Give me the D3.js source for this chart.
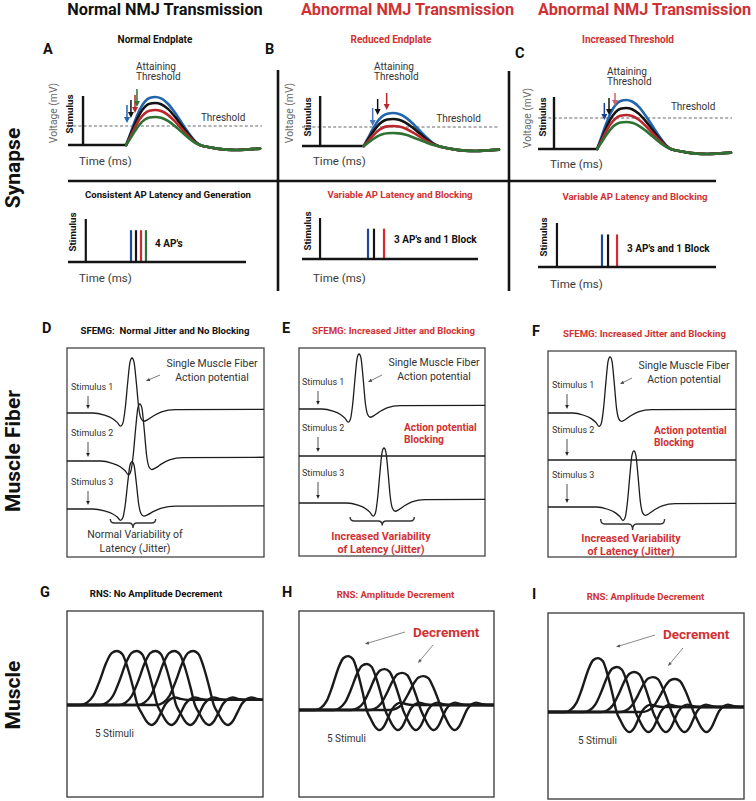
<!DOCTYPE html>
<html><head><meta charset="utf-8">
<script src="https://cdn.jsdelivr.net/npm/d3@7"></script>
<style>
body{margin:0;background:#fff;}
svg{display:block;font-family:Roboto,"Noto Sans",sans-serif;}
text{white-space:pre;}
</style></head><body>
<script>
// ================= DATA =================
const columnTitles = ["Normal NMJ Transmission", "Abnormal NMJ Transmission", "Abnormal NMJ Transmission"];
const rowTitles = ["Synapse", "Muscle Fiber", "Muscle"];
const panelLetters = ["A", "B", "C", "D", "E", "F", "G", "H", "I"];
const endplateTitles = ["Normal Endplate", "Reduced Endplate", "Increased Threshold"];
const apTitles = ["Consistent AP Latency and Generation", "Variable AP Latency and Blocking", "Variable AP Latency and Blocking"];
const apLabels = ["4 AP's", "3 AP's and 1 Block", "3 AP's and 1 Block"];
const sfTitles = ["SFEMG:  Normal Jitter and No Blocking", "SFEMG: Increased Jitter and Blocking", "SFEMG: Increased Jitter and Blocking"];
const rnsTitles = ["RNS: No Amplitude Decrement", "RNS: Amplitude Decrement", "RNS: Amplitude Decrement"];
const stimulusRows = ["Stimulus 1", "Stimulus 2", "Stimulus 3"];

// Synapse: end-plate potentials (time in ms, voltage in mV)
const stimTime = [1.55, 1.85, 1.65];
const stimLevel = [49, 50, 52];
const eppOnset = [6.0, 6.3, 6.1];
const thresholdMV = [19, 19, 31];
const eppAmpA = [48, 42, 35, 28];
const eppAmpB = [33, 27, 20, 13];
const eppAmpC = [49, 41, 34, 27];
// EPP waveform: rising phase (fraction of peak) and after-hyperpolarisation (mV)
const eppRise = [[0,0],[0.4,0.22],[0.9,0.5],[1.4,0.74],[1.9,0.9],[2.4,0.98],[3.0,1],[3.6,0.97],[4.3,0.86],[5.0,0.68],[5.7,0.47],[6.4,0.26],[7.1,0.08],[7.6,0]];
const eppTail = [[8.3,-1.8],[9.2,-3.4],[10.3,-4.6],[11.4,-5],[12.5,-4.5],[13.8,-3.6]];
// "Attaining threshold" arrows (ms, tip mV, top mV)
const arrowTimeA = [6.08, 6.49, 6.91, 7.11], arrowTipA = [22, 27, 32, 38], arrowTopA = [40, 45, 50, 56];
const arrowTimeB = [7.21, 7.72, 8.64], arrowTipB = [20, 31, 36], arrowTopB = [38, 47, 53];
const arrowTimeC = [6.84, 7.32, 7.94], arrowTipC = [29, 34, 43], arrowTopC = [46, 51, 56];

// Synapse: AP generation (ms)
const apStimTime = [2.0, 2.05, 2.13];
const apTimesA = [7.08, 7.64, 8.2, 8.76];
const apTimesB = [7.5, 8.18, 9.32];
const apTimesC = [7.19, 7.87, 8.88];
const apLevel = 0.74;

// Muscle fiber: SFEMG (time in % of sweep, amplitude in fraction of standard spike)
const sfShape = [[-100,0],[-20,0],[-14,-0.04],[-10,-0.1],[-7.5,-0.17],[-5.8,-0.24],[-4.6,-0.18],[-3.4,0.1],[-2.2,0.55],[-1,0.93],[0,1],[1,0.93],[2.2,0.55],[3.4,0.1],[4.6,-0.1],[6,-0.15],[8,-0.12],[11,-0.05],[15,0.02],[22,0.06],[100,0.07]];
const sfLatencyD = [33, 37, 33], sfAmpD = [1, 1.04, 0.86];
const sfLatencyE = [32.3, 40, 45.7], sfAmpE = [1, 0, 1];
const sfLatencyF = [33, 40, 45.7], sfAmpF = [1.02, 0, 1.02];
const jitterBraceD = [22, 45], jitterBraceE = [27.5, 62], jitterBraceF = [28, 62];

// Muscle: RNS compound muscle action potentials (time in % of sweep, mV)
const rnsRise = [[-100,0],[-17,0],[-14,0.04],[-11,0.17],[-8,0.45],[-5,0.78],[-2.5,0.96],[0,1],[2.5,0.94],[5,0.68],[7.5,0.32],[9.5,0]];
const rnsTail = [[11.5,-9],[13.5,-17],[16,-21.5],[18.5,-17],[20.5,-8],[22.5,1],[25,6.5],[27,8],[29.5,6.5],[33,5.4],[100,5.4]];
const rnsWidth = [1.1, 1, 1];
const rnsLatencyG = [25.5, 35.6, 45.2, 54.8, 64.4], rnsAmpG = [58, 58, 58, 58, 58];
const rnsLatencyH = [25.2, 34.7, 43.9, 53, 63.8], rnsAmpH = [58, 49.5, 44, 40, 36.5];
const rnsLatencyI = [25.5, 35.2, 44.1, 53.6, 64.8], rnsAmpI = [58, 48.4, 43, 37.6, 35.5];

// ================= STYLE =================
const RED = "#cf3234", INK = "#141414", GREY = "#333";
const traceColors = ["#2265ad", "#141414", "#b9262c", "#2e7233"];
const apColors = ["#1d4a98", "#141414", "#d8282c", "#2e7233"];
const arrowColorsA = ["#2265ad", "#141414", "#b9262c", "#2e7233"];
const arrowColorsB = ["#4b77c0", "#141414", "#b9262c"];
const arrowColorsC = ["#1d3f8f", "#141414", "#d0646e"];

const svg = d3.select("body").append("svg").attr("width", 756).attr("height", 801);
const defs = svg.append("defs");

function label(x, y, str, o = {}) {
  const lines = Array.isArray(str) ? str : [str];
  const t = svg.append("text").attr("x", x).attr("y", y)
    .attr("font-size", o.size || 10).attr("font-weight", o.weight || 400)
    .attr("fill", o.fill || GREY).attr("text-anchor", o.anchor || "start");
  lines.forEach((s, k) => t.append("tspan").attr("x", x).attr("dy", k ? (o.lh || 12) : 0).text(s));
  if (o.rotate) t.attr("transform", `rotate(${o.rotate},${x},${y})`);
  return t;
}
function arrow(x1, y1, x2, y2, color, w, hl, hw) {
  const a = Math.atan2(y2 - y1, x2 - x1);
  const bx = x2 - hl * Math.cos(a), by = y2 - hl * Math.sin(a);
  svg.append("line").attr("x1", x1).attr("y1", y1).attr("x2", bx + 0.3 * hl * Math.cos(a)).attr("y2", by + 0.3 * hl * Math.sin(a))
    .attr("stroke", color).attr("stroke-width", w);
  const px = -Math.sin(a) * hw, py = Math.cos(a) * hw;
  svg.append("path").attr("d", `M${x2},${y2}L${bx + px},${by + py}L${bx - px},${by - py}Z`).attr("fill", color);
}
function hline(x1, x2, y, w, c) { svg.append("line").attr("x1", x1).attr("x2", x2).attr("y1", y).attr("y2", y).attr("stroke", c || INK).attr("stroke-width", w); }
function vline(x, y1, y2, w, c) { svg.append("line").attr("x1", x).attr("x2", x).attr("y1", y1).attr("y2", y2).attr("stroke", c || INK).attr("stroke-width", w); }
function brace(x1, x2, yTop, yBar, yTip, color) {
  const xm = (x1 + x2) / 2, r = 4;
  const d = `M${x1},${yTop}Q${x1},${yBar} ${x1 + r},${yBar}L${xm - r},${yBar}Q${xm},${yBar} ${xm},${yTip}Q${xm},${yBar} ${xm + r},${yBar}L${x2 - r},${yBar}Q${x2},${yBar} ${x2},${yTop}`;
  svg.append("path").attr("d", d).attr("fill", "none").attr("stroke", color).attr("stroke-width", 1.4);
}

// ================= HEADERS =================
const headerX = [165, 407.5, 644.5];
columnTitles.forEach((t, i) => label(headerX[i], 14.5, t, { size: 16.3, weight: 700, anchor: "middle", fill: i ? RED : "#111" }));
const rowCenter = [168, 451, 695];
rowTitles.forEach((t, i) => label(20, rowCenter[i], t, { size: 21, weight: 700, anchor: "middle", fill: "#111", rotate: -90 }));

// Synapse grid lines
hline(68, 716, 181, 2.6);
vline(278, 70, 291, 2.6);
vline(509, 71, 291, 2.6);

// ================= SYNAPSE: EPP panels =================
const synTop = [
  { x0: 68, x1: 262, base: 145, letter: [43, 53.5], title: [155, 43], attain: [136, 70], thr: 121, volt: [57, 113], stim: [73, 114], time: [79, 165] },
  { x0: 302, x1: 498, base: 146, letter: [265, 54], title: [391, 43], attain: [374, 70], thr: 122, volt: [293, 113], stim: [311, 117], time: [313, 165] },
  { x0: 538, x1: 732, base: 149, letter: [515, 58], title: [628, 43], attain: [607, 75], thr: 110, volt: [531, 118], stim: [546, 117], time: [550, 167.5] }
];
const eppAmps = [eppAmpA, eppAmpB, eppAmpC];
const arrowTimes = [arrowTimeA, arrowTimeB, arrowTimeC], arrowTips = [arrowTipA, arrowTipB, arrowTipC], arrowTops = [arrowTopA, arrowTopB, arrowTopC];
const arrowColors = [arrowColorsA, arrowColorsB, arrowColorsC];

synTop.forEach((p, i) => {
  const x = d3.scaleLinear().domain([0, 20]).range([p.x0, p.x1]);
  const y = d3.scaleLinear().domain([0, 50]).range([p.base, p.base - 50]);
  label(p.letter[0], p.letter[1], panelLetters[i], { size: 14.5, weight: 700, fill: "#111" });
  label(p.title[0], p.title[1], endplateTitles[i], { size: 10, weight: 700, anchor: "middle", fill: i ? RED : "#111" });
  label(p.attain[0], p.attain[1], ["Attaining", "Threshold"], { size: 10, lh: 9.5 });
  label(p.volt[0], p.volt[1], "Voltage (mV)", { size: 10.3, fill: "#6a6a6a", anchor: "middle", rotate: -90 });
  label(p.stim[0], p.stim[1], "Stimulus", { size: 9.8, weight: 700, fill: "#111", anchor: "middle", rotate: -90 });
  label(p.time[0], p.time[1], "Time (ms)", { size: 11.5, fill: "#3a3a3a" });
  // threshold
  svg.append("line").attr("x1", x(0)).attr("x2", x(20)).attr("y1", y(thresholdMV[i])).attr("y2", y(thresholdMV[i]))
    .attr("stroke", "#555").attr("stroke-width", 0.9).attr("stroke-dasharray", "3,2.2");
  label(x(13.7), p.thr, "Threshold", { size: 10 });
  // baseline + stimulus
  svg.append("line").attr("x1", x(0)).attr("x2", x(eppOnset[i]) + 1).attr("y1", y(0)).attr("y2", y(0)).attr("stroke", INK).attr("stroke-width", 2.6);
  svg.append("line").attr("x1", x(stimTime[i])).attr("x2", x(stimTime[i])).attr("y1", y(0) + 1).attr("y2", y(stimLevel[i])).attr("stroke", INK).attr("stroke-width", 2.4);
  // EPP curves
  const line = d3.line().x(d => x(d[0])).y(d => y(d[1])).curve(d3.curveMonotoneX);
  eppAmps[i].forEach((amp, k) => {
    const pts = eppRise.map(([t, v]) => [eppOnset[i] + t, v * amp]).concat(eppTail.map(([t, v]) => [eppOnset[i] + t, v]));
    svg.append("path").attr("d", line(pts)).attr("fill", "none").attr("stroke", traceColors[k]).attr("stroke-width", 2.6).attr("stroke-linecap", "round");
  });
  // arrows
  arrowTimes[i].forEach((t, k) => {
    arrow(x(t), y(arrowTops[i][k]), x(t), y(arrowTips[i][k]), arrowColors[i][k], 1.5, 6, 3);
  });
});

// ================= SYNAPSE: AP panels =================
const synBot = [
  { x0: 68, x1: 246, base: 262, h: 43, title: [168, 198], stim: [76, 232], lab: [155, 247], time: [79, 282] },
  { x0: 302, x1: 478, base: 259, h: 41, title: [400, 198], stim: [311, 231], lab: [394, 243], time: [313, 282] },
  { x0: 538, x1: 716, base: 267, h: 44, title: [635, 200], stim: [547, 237], lab: [627, 252], time: [550, 288] }
];
const apTimes = [apTimesA, apTimesB, apTimesC];
synBot.forEach((p, i) => {
  const x = d3.scaleLinear().domain([0, 20]).range([p.x0, p.x1]);
  const y = d3.scaleLinear().domain([0, 1]).range([p.base, p.base - p.h]);
  label(p.title[0], p.title[1], apTitles[i], { size: 9.6, weight: 700, anchor: "middle", fill: i ? RED : "#111" });
  label(p.stim[0], p.stim[1], "Stimulus", { size: 9.8, weight: 700, fill: "#111", anchor: "middle", rotate: -90 });
  label(p.time[0], p.time[1], "Time (ms)", { size: 11.5, fill: "#3a3a3a" });
  label(p.lab[0], p.lab[1], apLabels[i], { size: 10, weight: 700, fill: "#111" });
  svg.append("line").attr("x1", x(apStimTime[i])).attr("x2", x(apStimTime[i])).attr("y1", y(0)).attr("y2", y(1)).attr("stroke", INK).attr("stroke-width", 2.2);
  svg.selectAll(null).data(apTimes[i]).enter().append("line")
    .attr("x1", d => x(d)).attr("x2", d => x(d)).attr("y1", y(0)).attr("y2", y(apLevel))
    .attr("stroke", (d, k) => apColors[k]).attr("stroke-width", 2.2);
  svg.append("line").attr("x1", x(0)).attr("x2", x(20)).attr("y1", y(0)).attr("y2", y(0)).attr("stroke", INK).attr("stroke-width", 2.6);
});

// ================= MUSCLE FIBER: SFEMG =================
const sfPanels = [
  { box: [67, 348, 264, 557], rows: [413, 509], letter: [42, 333], title: [165, 334], stimX: 71, stimY: [390, 436, 485], arrX: 88,
    smf: [212, 367], ptr: [160, 375, 146, 381], brace: [519, 523, 528], jit: [135, 538] },
  { box: [299, 348, 485, 556], rows: [409, 503], letter: [282, 333], title: [393.5, 334], stimX: 302, stimY: [385, 431, 476], arrX: 318,
    smf: [434, 366], ptr: [382, 375, 368, 382], brace: [517, 521, 525.5], jit: [381, 540], block: [404, 431] },
  { box: [548, 351, 736, 557], rows: [413, 507], letter: [532, 336], title: [644.5, 337], stimX: 552, stimY: [388, 433, 478], arrX: 567,
    smf: [684, 369], ptr: [632, 378, 620, 384], brace: [519, 524, 530], jit: [631, 542], block: [654, 434] }
];
const sfLat = [sfLatencyD, sfLatencyE, sfLatencyF], sfAmp = [sfAmpD, sfAmpE, sfAmpF];
const braces = [jitterBraceD, jitterBraceE, jitterBraceF];
sfPanels.forEach((p, i) => {
  const [bx0, by0, bx1, by1] = p.box;
  const x = d3.scaleLinear().domain([0, 100]).range([bx0, bx1]);
  const row = d3.scalePoint().domain(stimulusRows).range(p.rows);
  const amp = d3.scaleLinear().domain([0, 1]).range([0, -55]);
  const cid = "clipSF" + i;
  defs.append("clipPath").attr("id", cid).append("rect").attr("x", bx0).attr("y", by0).attr("width", bx1 - bx0).attr("height", by1 - by0);
  svg.append("rect").attr("x", bx0).attr("y", by0).attr("width", bx1 - bx0).attr("height", by1 - by0).attr("fill", "none").attr("stroke", "#444").attr("stroke-width", 1.3);
  label(p.letter[0], p.letter[1], panelLetters[3 + i], { size: 14.5, weight: 700, fill: "#111" });
  label(p.title[0], p.title[1], sfTitles[i], { size: 9.6, weight: 700, anchor: "middle", fill: i ? RED : "#111" });
  const line = d3.line().x(d => x(d[0])).y(d => d[2] + amp(d[1])).curve(d3.curveMonotoneX);
  stimulusRows.forEach((r, k) => {
    const pts = sfShape.map(([t, v]) => [sfLat[i][k] + t, v * sfAmp[i][k], row(r)]);
    svg.append("path").attr("clip-path", `url(#${cid})`).attr("d", line(pts)).attr("fill", "none").attr("stroke", "#1c1c1c").attr("stroke-width", 1.3);
    label(p.stimX, p.stimY[k], r, { size: 9, fill: "#333" });
    arrow(p.arrX, p.stimY[k] + 6, p.arrX, row(r) - 4, "#222", 0.8, 4, 1.8);
  });
  label(p.smf[0], p.smf[1], ["Single Muscle Fiber", "Action potential"], { size: 10.5, anchor: "middle", fill: "#333", lh: 13.5 });
  arrow(p.ptr[0], p.ptr[1], p.ptr[2], p.ptr[3], "#444", 0.7, 4, 1.6);
  if (p.block) {
    label(p.block[0], p.block[1], ["Action potential", "Blocking"], { size: 10.2, weight: 700, fill: RED, lh: 12 });
  }
  brace(x(braces[i][0]), x(braces[i][1]), p.brace[0], p.brace[1], p.brace[2], "#333");
  if (i === 0) {
    label(p.jit[0], p.jit[1], ["Normal Variability of", "Latency (Jitter)"], { size: 10.5, anchor: "middle", fill: "#333", lh: 13.5 });
  } else {
    label(p.jit[0], p.jit[1], ["Increased Variability", "of Latency (Jitter)"], { size: 10.8, weight: 700, anchor: "middle", fill: RED, lh: 12.5 });
  }
});

// ================= MUSCLE: RNS =================
const rnsPanels = [
  { box: [67, 611, 263, 797], ydom: [-99, 101], letter: [40, 597], title: [156, 597], stim: [95, 737] },
  { box: [299, 611, 494, 797], ydom: [-93.5, 106.5], letter: [282, 597], title: [395.5, 598], stim: [327, 742], dec: [413, 637], arr: [[405, 632, 365, 644], [433, 645, 418, 663]] },
  { box: [548, 613, 744, 799], ydom: [-93.5, 106.5], letter: [532, 599], title: [645.5, 600], stim: [578, 744], dec: [663, 639], arr: [[655, 635, 616, 647], [683, 648, 668, 666]] }
];
const rnsLat = [rnsLatencyG, rnsLatencyH, rnsLatencyI], rnsAmp = [rnsAmpG, rnsAmpH, rnsAmpI];
rnsPanels.forEach((p, i) => {
  const [bx0, by0, bx1, by1] = p.box;
  const x = d3.scaleLinear().domain([0, 100]).range([bx0, bx1]);
  const y = d3.scaleLinear().domain(p.ydom).range([by1, by0]);
  const cid = "clipRNS" + i;
  defs.append("clipPath").attr("id", cid).append("rect").attr("x", bx0).attr("y", by0).attr("width", bx1 - bx0).attr("height", by1 - by0);
  svg.append("rect").attr("x", bx0).attr("y", by0).attr("width", bx1 - bx0).attr("height", by1 - by0).attr("fill", "none").attr("stroke", "#444").attr("stroke-width", 1.4);
  label(p.letter[0], p.letter[1], panelLetters[6 + i], { size: 14.5, weight: 700, fill: "#111" });
  label(p.title[0], p.title[1], rnsTitles[i], { size: 9.6, weight: 700, anchor: "middle", fill: i ? RED : "#111" });
  label(p.stim[0], p.stim[1], "5 Stimuli", { size: 10, fill: "#333" });
  const line = d3.line().x(d => x(d[0])).y(d => y(d[1])).curve(d3.curveMonotoneX);
  const wf = rnsWidth[i];
  rnsLat[i].forEach((lat, k) => {
    const pts = rnsRise.map(([t, v]) => [lat + t * wf, v * rnsAmp[i][k]]).concat(rnsTail.map(([t, v]) => [lat + t * wf, v]));
    svg.append("path").attr("clip-path", `url(#${cid})`).attr("d", line(pts)).attr("fill", "none").attr("stroke", "#1a1a1a").attr("stroke-width", 2.4);
  });
  if (p.dec) {
    label(p.dec[0], p.dec[1], "Decrement", { size: 13.5, weight: 700, fill: RED });
    p.arr.forEach(a => arrow(a[0], a[1], a[2], a[3], "#555", 0.7, 4, 1.6));
  }
});
</script>
</body></html>
